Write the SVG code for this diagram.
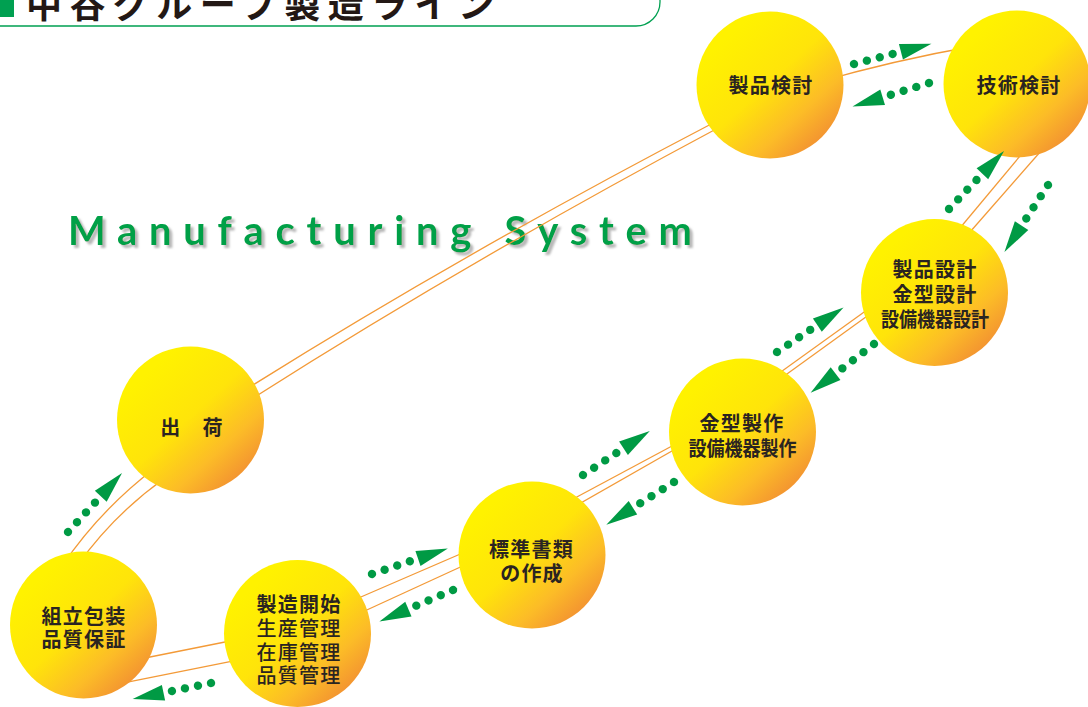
<svg xmlns="http://www.w3.org/2000/svg" xmlns:xlink="http://www.w3.org/1999/xlink" width="1088" height="707" viewBox="0 0 1088 707">
<style>
.trk{fill:none;stroke:#F39A38;stroke-width:1.3}
.lbl{font-family:"Noto Sans CJK JP","Noto Sans",sans-serif;font-size:20px;font-weight:700;fill:#2A2421;text-anchor:middle;letter-spacing:1.2px}
.lbm{font-weight:500}
.ttl{font-family:"Noto Sans CJK JP","Noto Sans",sans-serif;font-size:36px;font-weight:700;fill:#231815}
.ms{font-family:Lato,"Liberation Sans",sans-serif;font-size:40px;font-weight:700}
.arw{fill:#009A44}
</style>
<defs>
<linearGradient id="ball" x1="0.2" y1="0.18" x2="0.88" y2="0.92">
<stop offset="0" stop-color="#FFF200"/>
<stop offset="0.42" stop-color="#FFE40A"/>
<stop offset="0.72" stop-color="#FCBC27"/>
<stop offset="1" stop-color="#F18A33"/>
</linearGradient>
<filter id="shadow" x="-5%" y="-30%" width="110%" height="160%">
<feDropShadow dx="3" dy="3" stdDeviation="0.8" flood-color="#B8B8B8" flood-opacity="1"/>
</filter>
<g id="arr">
<circle cx="0" cy="0" r="4.2"/>
<circle cx="13.3" cy="0" r="4.2"/>
<circle cx="26.6" cy="0" r="4.2"/>
<circle cx="39.9" cy="0" r="4.2"/>
<polygon points="48.5,-8 48.5,8 80,0"/>
</g>
</defs>
<rect width="1088" height="707" fill="#FFFFFF"/>

<g id="title">
<rect x="0" y="-10" width="14" height="27" fill="#00A051"/>
<text class="ttl" x="26" y="18" textLength="468" lengthAdjust="spacing">中谷グループ製造ライン</text>
<path d="M -2 26 H 636 A 24 24 0 0 0 660 2 V -2" fill="none" stroke="#00A051" stroke-width="1.3"/>
</g>

<g id="headline">
<text class="ms" x="68" y="245" fill="#00A047" textLength="624" lengthAdjust="spacing" filter="url(#shadow)">Manufacturing System</text>
</g>

<g id="connectors">
<g id="track">
<path class="trk" d="M 62 566 Q 100 510 155 468"/>
<path class="trk" d="M 77 566 Q 113 515 165 478"/>
<path class="trk" d="M 245 390 Q 460 255 715 122"/>
<path class="trk" d="M 250 400 Q 465 263 718 128"/>
<path class="trk" d="M 815 83 Q 895 60 975 46"/>
<path class="trk" d="M 1045 126 L 955 234"/>
<path class="trk" d="M 1062 127 L 963 240"/>
<path class="trk" d="M 760 387 L 885 297"/>
<path class="trk" d="M 762 392 L 888 301"/>
<path class="trk" d="M 560 506 L 700 431"/>
<path class="trk" d="M 565 512 L 700 435"/>
<path class="trk" d="M 340 606 L 480 545.5"/>
<path class="trk" d="M 345 620 L 480 558"/>
<path class="trk" d="M 135 660 L 245 638"/>
<path class="trk" d="M 115 684.6 L 250 657.6"/>
</g>
</g>

<g id="node-seihin-kento">
<circle cx="770" cy="85" r="73.5" fill="url(#ball)"/>
<text class="lbl" x="771" y="93.4">製品検討</text>
</g>
<g id="node-gijutsu-kento">
<circle cx="1017" cy="84" r="73.5" fill="url(#ball)"/>
<text class="lbl" x="1019" y="93.4">技術検討</text>
</g>
<g id="node-sekkei">
<circle cx="934.5" cy="292.5" r="73.5" fill="url(#ball)"/>
<text class="lbl" x="935" y="277.4">製品設計</text>
<text class="lbl" x="935" y="302.4">金型設計</text>
<text class="lbl" x="935" y="327.4" textLength="108" lengthAdjust="spacingAndGlyphs" style="letter-spacing:0">設備機器設計</text>
</g>
<g id="node-seisaku">
<circle cx="742.5" cy="432" r="73.5" fill="url(#ball)"/>
<text class="lbl" x="742" y="430.7">金型製作</text>
<text class="lbl" x="742.5" y="455.7" textLength="108" lengthAdjust="spacingAndGlyphs" style="letter-spacing:0">設備機器製作</text>
</g>
<g id="node-hyojun">
<circle cx="532" cy="555" r="73.5" fill="url(#ball)"/>
<text class="lbl" x="531.5" y="556.7">標準書類</text>
<text class="lbl" x="532" y="580.7">の作成</text>
</g>
<g id="node-seizo-kaishi">
<circle cx="297.5" cy="633.5" r="73.5" fill="url(#ball)"/>
<text class="lbl" x="299" y="612.4">製造開始</text>
<text class="lbl lbm" x="299" y="635.7">生産管理</text>
<text class="lbl lbm" x="299" y="659.7">在庫管理</text>
<text class="lbl lbm" x="299" y="683.4">品質管理</text>
</g>
<g id="node-kumitate">
<circle cx="83.5" cy="625" r="73.5" fill="url(#ball)"/>
<text class="lbl" x="84" y="624.1">組立包装</text>
<text class="lbl" x="84" y="647.4">品質保証</text>
</g>
<g id="node-shukka">
<circle cx="190.5" cy="420" r="73.5" fill="url(#ball)"/>
<text class="lbl" x="192" y="434.7">出　荷</text>
</g>

<g id="flow-arrows" class="arw">
<use xlink:href="#arr" transform="translate(68,532) rotate(-47.5)"/>
<use xlink:href="#arr" transform="translate(211,683) rotate(168.4)"/>
<use xlink:href="#arr" transform="translate(372,574) rotate(-18.6)"/>
<use xlink:href="#arr" transform="translate(453,590) rotate(156.9)"/>
<use xlink:href="#arr" transform="translate(583,475) rotate(-33.4)"/>
<use xlink:href="#arr" transform="translate(674,482) rotate(147.8)"/>
<use xlink:href="#arr" transform="translate(777,352) rotate(-33.7)"/>
<use xlink:href="#arr" transform="translate(874,344) rotate(142.4)"/>
<use xlink:href="#arr" transform="translate(949,209) rotate(-46.5)"/>
<use xlink:href="#arr" transform="translate(1048,185) rotate(123)"/>
<use xlink:href="#arr" transform="translate(854,64) rotate(-14.6)"/>
<use xlink:href="#arr" transform="translate(929,83) rotate(162.9)"/>
</g>
</svg>
